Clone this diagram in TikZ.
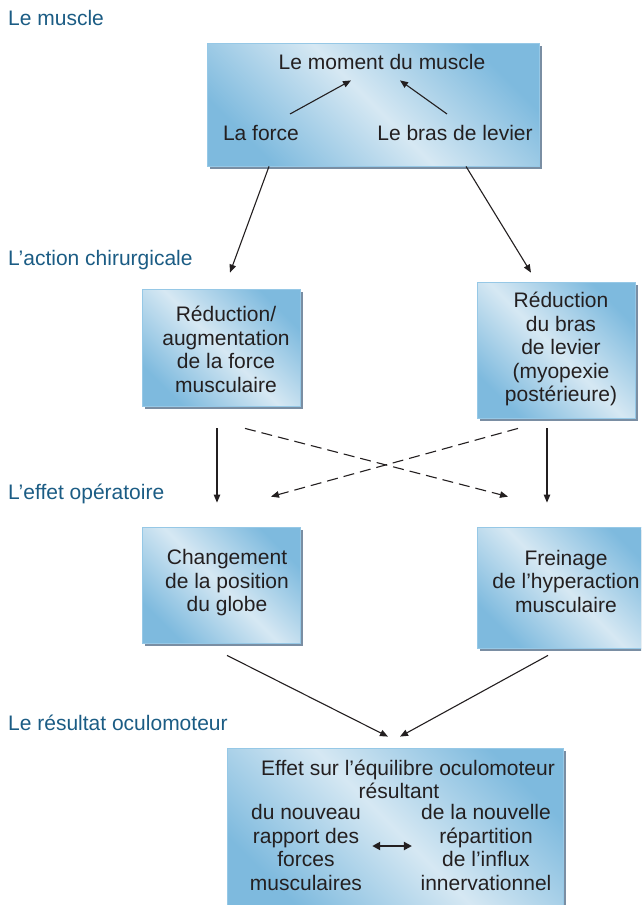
\documentclass[tikz,border=0pt]{standalone}
\usepackage{fontspec}
\setmainfont{Liberation Sans}
\usetikzlibrary{arrows.meta,positioning,shadows}
\definecolor{stageblue}{RGB}{27,92,132}
\definecolor{boxlight}{RGB}{214,232,243}
\definecolor{boxdark}{RGB}{126,186,222}
\definecolor{boxline}{RGB}{150,200,230}
\definecolor{boxshadow}{RGB}{122,142,163}
\definecolor{ink}{RGB}{35,31,32}

\begin{document}
\begin{tikzpicture}[x=1pt,y=-1pt, every node/.style={font=\fontsize{21}{23.5}\selectfont,align=center,text=ink,inner sep=0pt}, box/.style={draw=boxline,line width=0.8pt,left color=boxdark,right color=boxdark,middle color=boxlight,shading angle=-45,drop shadow={shadow xshift=3pt,shadow yshift=-3pt,fill=boxshadow,opacity=1}}, stage/.style={anchor=base west,text=stageblue}, arr/.style={-{Triangle[length=8pt,width=6.5pt]},line width=1.1pt,draw=ink}, darr/.style={arr,dash pattern=on 11pt off 6pt}, dbl/.style={{Triangle[length=8pt,width=8pt]}-{Triangle[length=8pt,width=8pt]},line width=2.4pt,draw=ink}]
\clip (0,0) rectangle (641,905);
% stages
\node[stage] (smuscle) at (8,25) {Le muscle};
\node[stage] (saction) at (8,265) {L’action chirurgicale};
\node[stage] (seffet) at (8,499) {L’effet opératoire};
\node[stage] (sresult) at (8,730) {Le résultat oculomoteur};
% boxes
\node[box,minimum width=332pt,minimum height=123pt] (muscle) at (373,104.5) {};
\node[anchor=base] (moment) at (382,69) {Le moment du muscle};
\node[anchor=base] (force) at (261,140) {La force};
\node[anchor=base] (lever) at (455,140) {Le bras de levier};
\node[box,minimum width=158pt,minimum height=117pt] (reduc) at (221,347.5) {};
\node (reductxt) at (226,349.5) {Réduction/\\augmentation\\de la force\\musculaire};
\node[box,minimum width=158pt,minimum height=136pt] (myo) at (556,350) {};
\node (myotxt) at (561,349) {Réduction\\du bras\\de levier\\(myopexie\\postérieure)};
\node[box,minimum width=158pt,minimum height=116pt] (globe) at (221,585) {};
\node (globetxt) at (227,583) {Changement\\de la position\\du globe};
\node[box,minimum width=176pt,minimum height=121pt] (frein) at (565,587.5) {};
\node (freintxt) at (566,581) {Freinage\\de l’hyperaction\\musculaire};
\node[box,minimum width=336pt,minimum height=162pt] (equil) at (395,829) {};
\node[anchor=base] (effet) at (408,775) {Effet sur l’équilibre oculomoteur};
\node[anchor=base] (resultant) at (399,798) {résultant};
\node (forces) at (306,847.4) {du nouveau\\rapport des\\forces\\musculaires};
\node (influx) at (486,847.4) {de la nouvelle\\répartition\\de l’influx\\innervationnel};
% connectors
\draw[arr] ([xshift=29pt,yshift=10.6pt]force.north)--([xshift=-31pt,yshift=-11pt]moment.south);\draw[arr] ([xshift=-8pt,yshift=10.6pt]lever.north)--([xshift=18pt,yshift=-11pt]moment.south);
\draw[arr] ([xshift=-104pt]muscle.south)--([xshift=9pt,yshift=16pt]reduc.north);\draw[arr] ([xshift=93pt]muscle.south)--([xshift=-25pt,yshift=9pt]myo.north);
\draw[arr] ([xshift=-4pt,yshift=-22pt]reduc.south)--([xshift=-4pt,yshift=24pt]globe.north);\draw[arr] ([xshift=-9pt,yshift=-10pt]myo.south)--([xshift=-18pt,yshift=24pt]frein.north);
\draw[darr] ([xshift=24pt,yshift=-22pt]reduc.south)--([xshift=-57pt,yshift=30pt]frein.north);\draw[darr] ([xshift=-38pt,yshift=-10pt]myo.south)--([xshift=50pt,yshift=30pt]globe.north);
\draw[arr] ([xshift=6pt,yshift=-12pt]globe.south)--([xshift=-7pt,yshift=11pt]equil.north);\draw[arr] ([xshift=-17pt,yshift=-7pt]frein.south)--([xshift=5pt,yshift=11pt]equil.north);
\draw[dbl,shorten <=10pt,shorten >=8.5pt] ([yshift=1.4pt]forces.east)--([yshift=1.4pt]influx.west);
\end{tikzpicture}
\end{document}
